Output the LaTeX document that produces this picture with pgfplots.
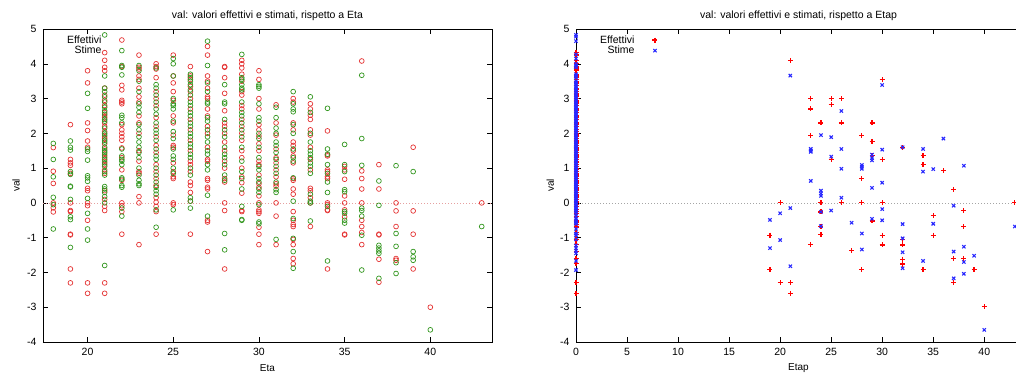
\documentclass[border=0pt]{standalone}
\usepackage{fontspec}
\setmainfont{Liberation Sans}
\usepackage{pgfplots}
\pgfplotsset{compat=1.18}
\definecolor{cR}{RGB}{228,50,50}
\definecolor{cG}{RGB}{50,150,30}
\definecolor{pR}{RGB}{255,0,0}
\definecolor{pB}{RGB}{40,40,255}
\definecolor{zL}{RGB}{230,160,160}
\definecolor{zR}{RGB}{165,165,165}
\pgfplotsset{
 myaxis/.style={
   scale only axis, height=313pt, ymin=-4, ymax=5, ytick={-4,-3,...,5},
   tick align=inside, major tick length=5pt,
   axis line style={line width=0.6pt}, tick style={line width=0.5pt, black},
   /pgf/number format/assume math mode=true,
   tick label style={font=\fontsize{10.5}{12}\selectfont},
   xticklabel style={yshift=-3pt},
   yticklabel style={xshift=-3pt},
   label style={font=\fontsize{10.5}{12}\selectfont},
   ylabel=val,
   every axis x label/.style={at={(axis description cs:0.5,-0.083)}, anchor=center},
   legend cell align=right, legend plot pos=right,
   legend style={draw=none, fill=none, at={(0,1)}, anchor=north west, xshift=23pt, yshift=-5.5pt,
     inner sep=0pt, font=\fontsize{10.5}{12}\selectfont,
     nodes={inner sep=1pt, text height=7.4pt, text depth=1.2pt},
     /tikz/every odd column/.append style={column sep=17pt}},
 }
}
\begin{document}
\begin{tikzpicture}[x=1pt,y=1pt]
\useasboundingbox (0,0) rectangle (1016,374);
% ---------------- left ----------------
\begin{axis}[myaxis, name=L, at={(43pt,32pt)}, anchor=south west, width=449pt,
  xmin=17.4, xmax=43.6, xtick={20,25,30,35,40}, xlabel={Eta},
  every axis y label/.style={at={(axis description cs:-0.06,0.5)}, anchor=center, rotate=90}]
\addplot[zL, dash pattern=on 1pt off 2pt, line width=0.6pt, forget plot] coordinates {(17.4,0) (43.6,0)};
\addplot[only marks, mark=o, mark size=2.4pt, cR, mark options={line width=0.7pt}] coordinates {
(18,1.59)(18,0.91)(18,0.56)(18,0)(18,-0.14)(18,-0.26)
(19,2.25)(19,1.25)(19,1.15)(19,1.08)(19,0.85)(19,0)(19,-0.22)(19,-0.25)(19,-0.9)(19,-0.92)(19,-1.9)(19,-2.3)
(20,3.8)(20,3.45)(20,2.3)(20,2.08)(20,1.78)(20,1.6)(20,0.42)(20,0.35)(20,0)(20,-0.08)(20,-0.5)(20,-2.3)(20,-2.6)
(21,4.32)(21,4.1)(21,3.9)(21,3.8)(21,3.3)(21,3.1)(21,2.95)(21,2.8)(21,2.6)(21,2.5)(21,2.45)(21,2.3)(21,2.2)(21,2.05)(21,1.9)(21,1.85)(21,1.7)(21,1.55)(21,1.4)(21,1.3)(21,1.2)(21,1.1)(21,0.95)(21,0.85)(21,0.35)(21,0.1)(21,-0.1)(21,-0.22)(21,-2.3)(21,-2.6)
(22,3.92)(22,3.38)(22,3.25)(22,2.95)(22,2.9)(22,2.85)(22,2.25)(22,2.1)(22,2.0)(22,1.9)(22,1.8)(22,1.58)(22,1.3)(22,0.95)(22,0.65)(22,0)(22,-0.08)(22,-0.25)(22,-0.9)
(23,4.25)(23,3.9)(23,3.85)(23,3.65)(23,3.55)(23,3.3)(23,3.05)(23,2.9)(23,2.5)(23,2.3)(23,2.0)(23,1.5)(23,1.2)(23,0.9)(23,0.85)(23,0.18)(23,0)(23,-1.2)
(24,4.0)(24,3.92)(24,3.85)(24,3.6)(24,3.2)(24,3.0)(24,2.8)(24,2.45)(24,2.2)(24,1.9)(24,1.65)(24,1.45)(24,1.1)(24,0.9)(24,0.7)(24,0.5)(24,0.15)(24,0.02)(24,-0.1)(24,-0.25)(24,-0.9)
(25,4.25)(25,3.65)(25,3.45)(25,3.2)(25,2.95)(25,2.5)(25,2.3)(25,1.95)(25,1.65)(25,1.6)(25,1.15)(25,0.9)(25,0.75)(25,0.7)(25,0)(25,-0.05)
(26,3.92)(26,3.65)(26,3.55)(26,3.35)(26,3.2)(26,3.0)(26,2.7)(26,2.4)(26,2.1)(26,1.8)(26,1.5)(26,1.2)(26,1.1)(26,0.9)(26,0.6)(26,0.5)(26,0.3)(26,0.05)(26,-0.9)
(27,4.5)(27,4.25)(27,3.65)(27,3.5)(27,3.3)(27,3.05)(27,3.0)(27,2.7)(27,2.5)(27,2.2)(27,2.0)(27,1.6)(27,1.25)(27,1.2)(27,0.7)(27,0.65)(27,0.45)(27,0.4)(27,-0.5)(27,-0.55)(27,-1.4)
(28,3.92)(28,3.9)(28,3.6)(28,3.15)(28,2.65)(28,2.3)(28,2.2)(28,2.0)(28,1.75)(28,1.5)(28,1.2)(28,1.0)(28,0.7)(28,0.6)(28,0)(28,-0.22)(28,-1.9)
(29,4.1)(29,4.0)(29,3.88)(29,3.7)(29,3.5)(29,3.2)(29,3.1)(29,2.8)(29,2.7)(29,2.4)(29,2.2)(29,2.0)(29,1.8)(29,1.5)(29,1.3)(29,1.0)(29,0.75)(29,0.58)(29,0.28)(29,-0.22)(29,-0.25)
(30,3.8)(30,3.55)(30,3.0)(30,2.7)(30,2.25)(30,2.1)(30,1.92)(30,1.7)(30,1.5)(30,1.2)(30,1.1)(30,0.8)(30,0.55)(30,0.45)(30,0.2)(30,0)(30,-0.2)(30,-0.25)(30,-0.3)(30,-0.7)(30,-0.9)(30,-1.2)
(31,2.82)(31,2.3)(31,1.95)(31,1.55)(31,1.3)(31,1.15)(31,0.95)(31,0.75)(31,0.55)(31,0.48)(31,0)(31,-0.38)(31,-1.2)
(32,3.0)(32,2.9)(32,2.3)(32,2.1)(32,1.75)(32,1.65)(32,1.5)(32,1.35)(32,1.15)(32,0.7)(32,0.65)(32,0.4)(32,0.25)(32,-0.25)(32,-0.5)(32,-0.62)(32,-0.68)(32,-1.05)(32,-1.2)(32,-1.6)(32,-1.75)
(33,2.85)(33,2.7)(33,2.52)(33,2.4)(33,2.1)(33,1.95)(33,1.6)(33,1.25)(33,0.95)(33,0.42)(33,0.35)(33,0.15)(33,0)(33,-0.68)
(34,2.07)(34,1.38)(34,1.35)(34,0.95)(34,0.9)(34,0.75)(34,0.7)(34,0)(34,-0.05)(34,-0.2)(34,-0.22)(34,-1.9)
(35,1.05)(35,0.95)(35,0.68)(35,0.2)(35,0)(35,-0.2)(35,-0.4)(35,-0.9)(35,-0.92)
(36,4.08)(36,0.92)(36,0.7)(36,0.4)(36,0)(36,-0.5)(36,-0.68)(36,-0.85)(36,-1.2)
(37,1.1)(37,0.4)(37,-0.9)(37,-0.92)(37,-1.62)(37,-2.28)
(38,0)(38,-0.23)(38,-0.68)(38,-1.6)(38,-1.65)
(39,1.6)(39,-0.23)(39,-0.9)(39,-1.9)
(40,-3.0)(43,0)
};
\addlegendentry{Effettivi}
\addplot[only marks, mark=o, mark size=2.4pt, cG, mark options={line width=0.7pt}] coordinates {
(18,1.71)(18,1.25)(18,0.75)(18,0.16)(18,-0.05)(18,-0.75)
(19,1.78)(19,1.6)(19,1.52)(19,0.9)(19,0.82)(19,0.48)(19,0.46)(19,0.1)(19,-0.4)(19,-0.48)(19,-1.28)
(20,3.15)(20,2.72)(20,1.55)(20,1.48)(20,1.23)(20,0.78)(20,0.72)(20,0.62)(20,0.13)(20,-0.3)(20,-0.75)(20,-1.07)
(21,4.83)(21,3.65)(21,3.3)(21,3.2)(21,3.05)(21,2.9)(21,2.75)(21,2.65)(21,2.55)(21,2.4)(21,2.35)(21,2.15)(21,2.0)(21,1.95)(21,1.8)(21,1.75)(21,1.6)(21,1.5)(21,1.45)(21,1.35)(21,1.25)(21,1.15)(21,1.05)(21,0.9)(21,0.8)(21,0.47)(21,0.4)(21,0.3)(21,0.18)(21,0)(21,-1.8)
(22,3.95)(22,3.9)(22,3.68)(22,2.52)(22,2.45)(22,2.3)(22,1.55)(22,1.35)(22,1.25)(22,1.2)(22,1.1)(22,0.72)(22,0.68)(22,0.5)(22,0.45)(22,-0.15)(22,-0.38)
(23,3.95)(23,3.8)(23,3.5)(23,3.2)(23,2.85)(23,2.75)(23,2.6)(23,2.25)(23,2.1)(23,1.9)(23,1.75)(23,1.6)(23,1.45)(23,1.3)(23,1.0)(23,0.8)(23,0.65)(23,0.55)(23,0.5)
(24,3.88)(24,3.4)(24,3.3)(24,3.1)(24,2.9)(24,2.7)(24,2.55)(24,2.3)(24,2.1)(24,2.0)(24,1.8)(24,1.55)(24,1.35)(24,1.25)(24,1.0)(24,0.8)(24,0.6)(24,0.45)(24,0.35)(24,0.25)(24,-0.2)(24,-0.7)
(25,4.15)(25,4.0)(25,3.65)(25,3.0)(25,2.85)(25,2.8)(25,2.7)(25,2.35)(25,2.05)(25,1.85)(25,1.55)(25,1.35)(25,1.25)(25,1.0)(25,0.85)(25,-0.2)
(26,3.7)(26,3.6)(26,3.5)(26,3.4)(26,3.25)(26,3.1)(26,2.9)(26,2.8)(26,2.6)(26,2.5)(26,2.3)(26,2.2)(26,2.0)(26,1.9)(26,1.7)(26,1.6)(26,1.4)(26,1.3)(26,1.0)(26,0.8)(26,0.15)(26,0.05)(26,-0.15)
(27,4.65)(27,3.95)(27,3.45)(27,3.2)(27,2.9)(27,2.85)(27,2.45)(27,2.35)(27,2.1)(27,1.9)(27,1.75)(27,1.5)(27,1.4)(27,1.1)(27,0.95)(27,0.22)(27,-0.38)
(28,3.4)(28,2.9)(28,2.85)(28,2.4)(28,2.1)(28,1.9)(28,1.6)(28,1.4)(28,1.3)(28,1.1)(28,0.8)(28,0.65)(28,-0.88)(28,-1.35)
(29,4.27)(29,3.6)(29,3.55)(29,3.4)(29,3.3)(29,3.25)(29,2.9)(29,2.6)(29,2.5)(29,2.3)(29,2.1)(29,1.9)(29,1.6)(29,1.2)(29,0.9)(29,0.7)(29,0.4)(29,-0.1)(29,-0.48)(29,-0.5)
(30,3.4)(30,3.35)(30,3.3)(30,2.85)(30,2.45)(30,2.35)(30,2.0)(30,1.85)(30,1.6)(30,1.3)(30,1.05)(30,0.95)(30,0.7)(30,0.6)(30,0.4)(30,0.3)(30,-0.05)(30,-0.55)(30,-0.6)
(31,2.75)(31,2.45)(31,2.15)(31,2.0)(31,1.75)(31,1.65)(31,1.45)(31,1.25)(31,1.05)(31,0.85)(31,0.6)(31,0.38)(31,0.3)(31,-1.05)
(32,3.2)(32,2.85)(32,2.7)(32,2.62)(32,2.25)(32,2.0)(32,1.55)(32,1.3)(32,1.2)(32,0.72)(32,0.05)(32,-0.45)(32,-1.02)(32,-1.4)(32,-1.88)
(33,3.05)(33,2.6)(33,2.0)(33,1.75)(33,1.5)(33,1.4)(33,1.3)(33,1.15)(33,1.05)(33,0.85)(33,0.25)(33,0.05)(33,0)(33,-0.52)
(34,2.72)(34,1.55)(34,1.4)(34,1.1)(34,0.85)(34,0.6)(34,0.3)(34,-0.1)(34,-1.67)
(35,1.68)(35,1.1)(35,0.9)(35,0.38)(35,0.32)(35,-0.25)(35,-0.3)(35,-0.5)(35,-0.58)
(36,3.67)(36,1.85)(36,1.08)(36,-0.15)(36,-0.22)(36,-0.38)(36,-0.93)(36,-1.93)
(37,0.63)(37,-0.07)(37,-1.22)(37,-1.3)(37,-1.38)(37,-1.45)(37,-2.17)
(38,1.07)(38,-0.88)(38,-1.25)(38,-1.72)(38,-2.03)
(39,0.9)(39,-1.4)(39,-1.55)(39,-1.65)
(40,-3.65)(43,-0.68)
};
\addlegendentry{Stime}
\end{axis}
\node[anchor=base, font=\fontsize{10.5}{12}\selectfont, inner sep=0pt] at ([yshift=10.7pt]L.north) {val: valori effettivi e stimati, rispetto a Eta};
% ---------------- right ----------------
\begin{axis}[myaxis, name=R, at={(576pt,32pt)}, anchor=south west, width=445pt,
  xmin=0, xmax=43.6, xtick={0,5,...,40}, xlabel={Etap},
  every axis y label/.style={at={(axis description cs:-0.058,0.5)}, anchor=center, rotate=90}]
\addplot[zR, dash pattern=on 1pt off 2pt, line width=0.6pt, forget plot] coordinates {(0,0) (43.6,0)};
\addplot[only marks, mark=+, mark size=2.5pt, pR, mark options={line width=1.2pt, draw=pR}] coordinates {
(0,4.32)(0,4.25)(0,4.1)(0,4.0)(0,3.92)(0,3.9)(0,3.85)(0,3.8)(0,3.7)(0,3.65)(0,3.6)(0,3.55)(0,3.5)(0,3.45)(0,3.38)(0,3.3)(0,3.25)(0,3.2)(0,3.15)(0,3.1)(0,3.05)(0,3.0)(0,2.95)(0,2.9)(0,2.85)(0,2.8)(0,2.7)(0,2.65)(0,2.6)(0,2.5)(0,2.45)(0,2.4)(0,2.3)(0,2.25)(0,2.2)(0,2.1)(0,2.05)(0,2.0)(0,1.95)(0,1.9)(0,1.85)(0,1.8)(0,1.75)(0,1.7)(0,1.65)(0,1.6)(0,1.55)(0,1.5)(0,1.45)(0,1.4)(0,1.35)(0,1.3)(0,1.25)(0,1.2)(0,1.15)(0,1.1)(0,1.05)(0,1.0)(0,0.95)(0,0.9)(0,0.85)(0,0.8)(0,0.75)(0,0.7)(0,0.65)(0,0.6)(0,0.55)(0,0.5)(0,0.45)(0,0.4)(0,0.35)(0,0.3)(0,0.25)(0,0.2)(0,0.15)(0,0.1)(0,0.05)(0,0)(0,-0.05)(0,-0.1)(0,-0.2)(0,-0.25)(0,-0.3)(0,-0.4)(0,-0.5)(0,-0.55)(0,-0.62)(0,-0.68)(0,-0.7)(0,-0.85)(0,-0.9)(0,-1.05)(0,-1.2)(0,-1.4)(0,-1.6)(0,-1.75)(0,-2.3)(0,-2.6)
(19,-0.93)(19,-1.92)(20,0)(20,-2.3)(21,4.09)(21,-2.3)(21,-2.6)
(23,3.0)(23,2.7)(23,1.93)(23,-1.2)(24,2.3)(24,0)(24,-0.26)(24,-0.67)(24,-0.91)
(25,3.0)(25,2.82)(25,1.25)(26,3.0)(26,2.3)(26,0)(27,-1.38)
(28,1.93)(28,0.69)(28,0)(28,-1.92)(29,2.3)(29,1.77)(29,1.36)(29,-0.52)
(30,3.54)(30,1.25)(30,0)(30,-0.93)(30,-1.21)
(32,1.59)(32,-1.05)(32,-1.21)(32,-1.62)(32,-1.76)
(34,1.36)(34,1.1)(34,-1.92)(35,-0.37)(35,-0.93)(36,0.92)
(37,0.39)(37,-1.61)(37,-2.28)(38,-0.23)(38,-0.68)(38,-1.61)(39,-1.92)(40,-2.99)(43,0)
};
\addlegendentry{Effettivi}
\addplot[only marks, mark=x, mark size=2.3pt, pB, mark options={line width=1.1pt, draw=pB}] coordinates {
(0,4.83)(0,4.78)(0,4.65)(0,4.27)(0,4.15)(0,4.0)(0,3.95)(0,3.9)(0,3.7)(0,3.65)(0,3.6)(0,3.5)(0,3.45)(0,3.4)(0,3.35)(0,3.3)(0,3.25)(0,3.2)(0,3.15)(0,3.1)(0,3.05)(0,3.0)(0,2.95)(0,2.9)(0,2.85)(0,2.8)(0,2.75)(0,2.7)(0,2.65)(0,2.6)(0,2.55)(0,2.5)(0,2.45)(0,2.4)(0,2.35)(0,2.3)(0,2.25)(0,2.2)(0,2.15)(0,2.1)(0,2.05)(0,2.0)(0,1.95)(0,1.9)(0,1.85)(0,1.8)(0,1.75)(0,1.7)(0,1.65)(0,1.6)(0,1.55)(0,1.5)(0,1.45)(0,1.4)(0,1.35)(0,1.3)(0,1.25)(0,1.2)(0,1.15)(0,1.1)(0,1.05)(0,1.0)(0,0.95)(0,0.9)(0,0.85)(0,0.8)(0,0.75)(0,0.7)(0,0.65)(0,0.6)(0,0.55)(0,0.5)(0,0.45)(0,0.4)(0,0.35)(0,0.3)(0,0.25)(0,0.2)(0,0.15)(0,0.1)(0,0.05)(0,0)(0,-0.05)(0,-0.1)(0,-0.15)(0,-0.2)(0,-0.25)(0,-0.3)(0,-0.38)(0,-0.45)(0,-0.5)(0,-0.55)(0,-0.6)(0,-0.75)(0,-0.88)(0,-0.93)(0,-1.05)(0,-1.22)(0,-1.3)(0,-1.38)(0,-1.45)(0,-1.67)(0,-1.93)
(19,-0.49)(19,-1.3)(20,-0.3)(20,-1.07)(21,3.66)(21,-0.15)(21,-1.82)
(23,1.55)(23,1.5)(23,1.47)(23,0.63)(24,1.95)(24,0.35)(24,0.27)(24,0.2)(24,-0.26)(24,-0.67)
(25,1.89)(25,1.33)(25,-0.22)(26,2.64)(26,1.55)(26,0.98)(26,0.15)(27,-0.57)
(28,1.09)(28,1.04)(28,0.98)(28,-0.88)(28,-1.34)(29,1.39)(29,1.29)(29,1.22)(29,0.43)(29,-0.46)
(30,3.39)(30,1.53)(30,0.58)(30,-0.18)(30,-0.5)
(32,1.6)(32,-0.61)(32,-1.02)(32,-1.42)(32,-1.88)
(34,1.55)(34,0.9)(34,-1.67)(35,0.97)(35,-0.6)(36,1.85)
(37,-0.08)(37,-1.4)(37,-2.17)(38,1.07)(38,-1.26)(38,-1.7)(38,-2.04)(39,-1.52)(40,-3.65)(43,-0.68)
};
\addlegendentry{Stime}
\end{axis}
\node[anchor=base, font=\fontsize{10.5}{12}\selectfont, inner sep=0pt] at ([yshift=10.7pt]R.north) {val: valori effettivi e stimati, rispetto a Etap};
\end{tikzpicture}
\end{document}
